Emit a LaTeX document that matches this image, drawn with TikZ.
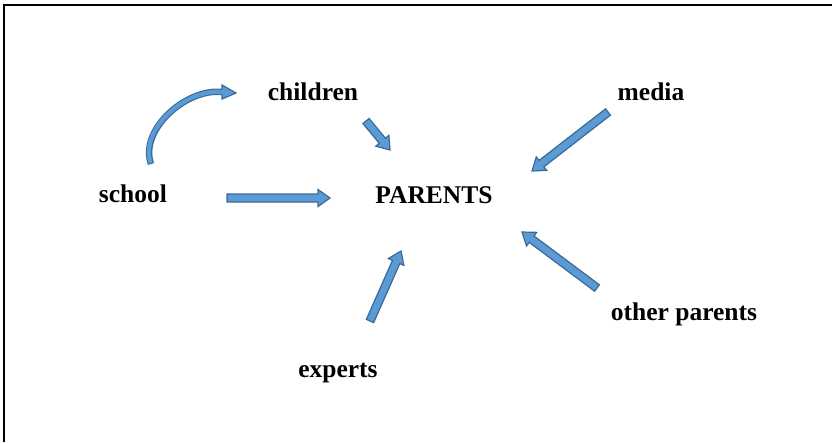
\documentclass[tikz,border=0pt]{standalone}
\usepackage{fontspec}
\setmainfont{Liberation Serif}
\usetikzlibrary{calc,positioning}

\definecolor{arrowfill}{HTML}{5B9BD5}
\definecolor{arrowline}{HTML}{3A6A96}

% block arrow from tail #1 to tip #2
\newcommand{\blockarrow}[2]{%
    \coordinate (#2-neck) at ($(#2)!12pt!(#1)$);
    \path[block] ($(#1)!4pt!90:(#2)$) -- ($(#2-neck)!4pt!-90:(#1)$)
        -- ($(#2-neck)!8.5pt!-90:(#1)$) -- (#2)
        -- ($(#2-neck)!8.5pt!90:(#1)$) -- ($(#2-neck)!4pt!90:(#1)$)
        -- ($(#1)!4pt!-90:(#2)$) -- cycle;}

\begin{document}
\begin{tikzpicture}[
    % GLOBAL CFG
    x=1pt, y=-1pt,
    % Styles
    word/.style={% For the labels
        font=\bfseries\fontsize{25.5}{30}\selectfont,
        anchor=base,
        inner sep=0pt,
        },
    block/.style={% For the block arrows
        fill=arrowfill,
        draw=arrowline,
        line width=1.2pt,
        line join=miter,
        },
    frame/.style={% For the border
        line width=2pt,
        },
    ]
    \useasboundingbox (0,0) rectangle (832,442);

    % Draw the border
    \draw [frame] (4.3,442) -- (4.3,5) -- (832,5);

    % Draw the labels
    \node [word] (parents) at (434,203) {PARENTS};
    \node [word] (children) at (313,100) {children};
    \node [word] (media) at (651,100) {media};
    \node [word] (school) at (133,202) {school};
    \node [word] (experts) at (338,377) {experts};
    \node [word] (others) at (684,320) {other parents};

    % Arrow ends
    \coordinate (schoolTail) at (227,198);
    \coordinate (schoolTip) at (330,198);
    \coordinate (childrenTail) at (366,121);
    \coordinate (childrenTip) at (390,150);
    \coordinate (mediaTail) at (608,112);
    \coordinate (mediaTip) at (532,171);
    \coordinate (expertsTail) at (370,321);
    \coordinate (expertsTip) at (401,251);
    \coordinate (othersTail) at (597,288);
    \coordinate (othersTip) at (522,232);

    % Straight arrows
    \blockarrow{schoolTail}{schoolTip}
    \blockarrow{childrenTail}{childrenTip}
    \blockarrow{mediaTail}{mediaTip}
    \blockarrow{expertsTail}{expertsTip}
    \blockarrow{othersTail}{othersTip}

    % Curved arrow school -> children
    \coordinate (curveTail) at (151,164);
    \coordinate (curveNeck) at (222,92);
    \coordinate (curveTip) at (236,93);
    \draw [arrowline, line width=6.5pt]
        (curveTail) .. controls +(-12,-34) and +(-36,-4) .. (curveNeck);
    \path [block] ($(curveNeck)+(0,-7)$) -- (curveTip) -- ($(curveNeck)+(0,7)$) -- cycle;
    \draw [arrowfill, line width=4.2pt, shorten <=1pt]
        (curveTail) .. controls +(-12,-34) and +(-36,-4) .. (curveNeck) -- ++(1.5,0);

\end{tikzpicture}
\end{document}
